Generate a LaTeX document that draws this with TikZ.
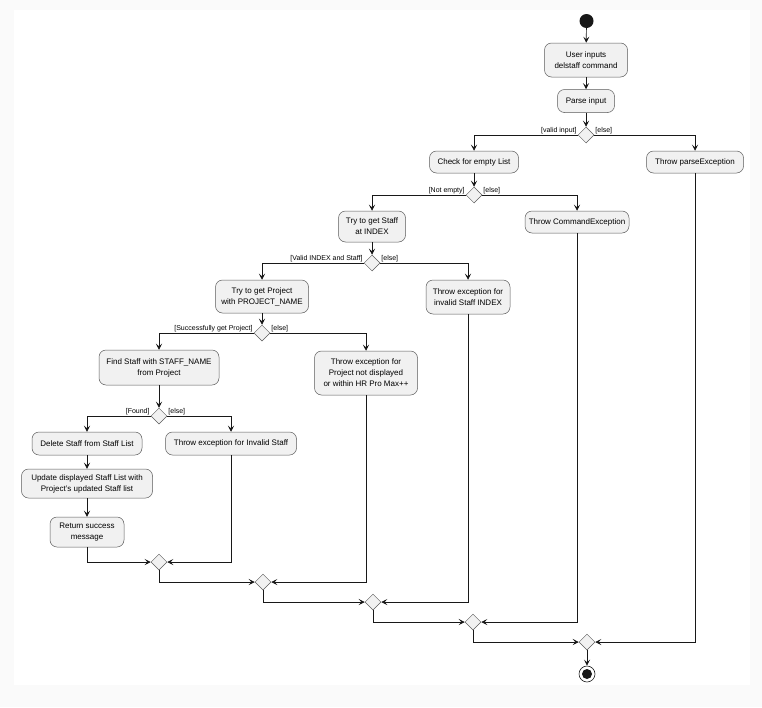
\documentclass[tikz,border=0pt]{standalone}
\usepackage{fontspec}
\setmainfont{Liberation Sans}
\usetikzlibrary{arrows.meta,shapes.geometric}
\definecolor{boxfill}{HTML}{F1F1F1}
\definecolor{linec}{HTML}{181818}
\definecolor{bordc}{HTML}{5A5A5A}
\definecolor{bgc}{HTML}{FAFAFA}
\begin{document}
\begin{tikzpicture}[x=1pt,y=-1pt,
 act/.style={draw=bordc, fill=boxfill, rounded corners=7pt, line width=0.5pt, font=\fontsize{8}{11}\selectfont, align=center, inner sep=0pt},
 dia/.style={draw=bordc, fill=boxfill, diamond, minimum width=16pt, minimum height=16pt, inner sep=0pt, line width=0.5pt},
 conn/.style={draw=linec, line width=0.7pt, -{Stealth[length=6pt,width=6pt,inset=2.5pt]}},
 lbl/.style={font=\fontsize{7}{8}\selectfont, inner sep=1pt}]
\fill[bgc] (0,0) rectangle (762,707);
\fill[white] (14,10) rectangle (750,685);
\useasboundingbox (0,0) rectangle (762,707);

% nodes
\node[circle, fill=linec, minimum size=14pt, inner sep=0pt] (start) at (586.5,21) {};
\node[act, minimum width=83pt, minimum height=34pt] (user) at (586,60) {User inputs\\delstaff command};
\node[act, minimum width=57pt, minimum height=23pt] (parse) at (586,101) {Parse input};
\node[dia] (d1) at (586,135) {};
\node[act, minimum width=89pt, minimum height=22pt] (check) at (474,162) {Check for empty List};
\node[act, minimum width=97pt, minimum height=22pt] (pexc) at (695,162) {Throw parseException};
\node[dia] (d2) at (474,195) {};
\node[act, minimum width=67pt, minimum height=31pt] (trystaff) at (372,226.5) {Try to get Staff\\at INDEX};
\node[act, minimum width=104pt, minimum height=22pt] (cexc) at (577,222) {Throw CommandException};
\node[dia] (d3) at (372,263) {};
\node[act, minimum width=93pt, minimum height=33pt] (tryproj) at (262,296.5) {Try to get Project\\with PROJECT\_NAME};
\node[act, minimum width=84pt, minimum height=34pt] (invidx) at (468,297) {Throw exception for\\invalid Staff INDEX};
\node[dia] (d4) at (262,333) {};
\node[act, minimum width=120pt, minimum height=35pt] (find) at (159,367.5) {Find Staff with STAFF\_NAME\\from Project};
\node[act, minimum width=103pt, minimum height=44pt] (pexc2) at (366,373) {Throw exception for\\Project not displayed\\or within HR Pro Max++};
\node[dia] (d5) at (159,416) {};
\node[act, minimum width=110pt, minimum height=23pt] (del) at (87,443.5) {Delete Staff from Staff List};
\node[act, minimum width=131pt, minimum height=23pt] (invstaff) at (231,443.5) {Throw exception for Invalid Staff};
\node[act, minimum width=131pt, minimum height=29pt] (upd) at (87,483.5) {Update displayed Staff List with\\Project's updated Staff list};
\node[act, minimum width=74pt, minimum height=30pt] (ret) at (87,532) {Return success\\message};
\node[dia] (mA) at (159,562) {};
\node[dia] (mB) at (263,582) {};
\node[dia] (mC) at (373,602) {};
\node[dia] (mD) at (473,622) {};
\node[dia] (mE) at (587,642) {};
\node[circle, draw=linec, line width=0.6pt, minimum size=16pt, inner sep=0pt] (end) at (587,674) {};
\node[circle, fill=linec, minimum size=10pt, inner sep=0pt] (endin) at (587,674) {};

% connectors
\draw[conn] (start) -- (user);
\draw[conn] (user) -- (parse);
\draw[conn] (parse) -- (d1);
\draw[conn] (d1.west) -| (check.north);
\draw[conn] (d1.east) -| (pexc.north);
\node[lbl, anchor=south east] (l1a) at (d1.west) {[valid input]};
\node[lbl, anchor=south west] (l1b) at (d1.east) {[else]};
\draw[conn] (check) -- (d2);
\draw[conn] (d2.west) -| (trystaff.north);
\draw[conn] (d2.east) -| (cexc.north);
\node[lbl, anchor=south east] (l2a) at (d2.west) {[Not empty]};
\node[lbl, anchor=south west] (l2b) at (d2.east) {[else]};
\draw[conn] (trystaff) -- (d3);
\draw[conn] (d3.west) -| (tryproj.north);
\draw[conn] (d3.east) -| (invidx.north);
\node[lbl, anchor=south east] (l3a) at (d3.west) {[Valid INDEX and Staff]};
\node[lbl, anchor=south west] (l3b) at (d3.east) {[else]};
\draw[conn] (tryproj) -- (d4);
\draw[conn] (d4.west) -| (find.north);
\draw[conn] (d4.east) -| (pexc2.north);
\node[lbl, anchor=south east] (l4a) at (d4.west) {[Successfully get Project]};
\node[lbl, anchor=south west] (l4b) at (d4.east) {[else]};
\draw[conn] (find) -- (d5);
\draw[conn] (d5.west) -| (del.north);
\draw[conn] (d5.east) -| (invstaff.north);
\node[lbl, anchor=south east] (l5a) at (d5.west) {[Found]};
\node[lbl, anchor=south west] (l5b) at (d5.east) {[else]};
\draw[conn] (del) -- (upd);
\draw[conn] (upd) -- (ret);
\draw[conn] (ret.south) |- (mA.west);
\draw[conn] (invstaff.south) |- (mA.east);
\draw[conn] (mA.south) |- (mB.west);
\draw[conn] (pexc2.south) |- (mB.east);
\draw[conn] (mB.south) |- (mC.west);
\draw[conn] (invidx.south) |- (mC.east);
\draw[conn] (mC.south) |- (mD.west);
\draw[conn] (cexc.south) |- (mD.east);
\draw[conn] (mD.south) |- (mE.west);
\draw[conn] (pexc.south) |- (mE.east);
\draw[conn] (mE.south) -- (end.north);
\end{tikzpicture}
\end{document}
